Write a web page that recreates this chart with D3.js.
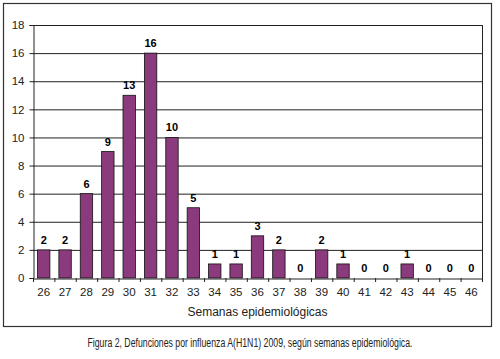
<html>
<head>
<script src="https://d3js.org/d3.v7.min.js"></script>
</head>
<style>
    body{ margin:0; background:#fff; }
</style>
<body>
</body>
<script>
const semanas = ['26','27','28','29','30','31','32','33','34','35','36','37','38','39','40','41','42','43','44','45','46'];
const defunciones = [2,2,6,9,13,16,10,5,1,1,3,2,0,2,1,0,0,1,0,0,0];
const yTicks = [0,2,4,6,8,10,12,14,16,18];
const xTitle = 'Semanas epidemiológicas';
const caption = 'Figura 2, Defunciones por influenza A(H1N1) 2009, según semanas epidemiológica.';

const w = 500, h = 359;
const mLeft = 33, mRight = 482, mTop = 25, mBottom = 278;

const svg = d3.select('body').append('svg')
    .attr('width', w)
    .attr('height', h)
    .style('font-family', 'Liberation Sans, Arial, sans-serif');

// marco exterior
svg.append('rect')
    .attr('x', 3.5).attr('y', 3.5)
    .attr('width', 488).attr('height', 323)
    .attr('fill', 'none')
    .attr('stroke', '#333')
    .attr('stroke-width', 1.2);

const x = d3.scaleBand()
    .domain(semanas)
    .range([mLeft, mRight])
    .paddingInner(0.42)
    .paddingOuter(0.21);

const y = d3.scaleLinear()
    .domain([0, 18])
    .range([mBottom, mTop]);

// lineas de cuadricula
svg.append('g')
    .selectAll('line')
    .data(yTicks.filter(d => d > 0))
    .enter()
    .append('line')
    .attr('x1', mLeft).attr('x2', mRight)
    .attr('y1', d => y(d) + 0.5).attr('y2', d => y(d) + 0.5)
    .attr('stroke', '#222')
    .attr('stroke-width', 1);

// borde derecho del area
svg.append('line')
    .attr('x1', mRight + 0.5).attr('x2', mRight + 0.5)
    .attr('y1', mTop).attr('y2', mBottom)
    .attr('stroke', '#222');

// barras
svg.append('g')
    .selectAll('rect')
    .data(defunciones)
    .enter()
    .append('rect')
    .attr('x', (d, i) => x(semanas[i]))
    .attr('y', d => y(d))
    .attr('width', x.bandwidth())
    .attr('height', d => mBottom - y(d))
    .attr('fill', '#8b3a7d')
    .attr('stroke', '#111')
    .attr('stroke-width', 0.8);

// etiquetas de valor
svg.append('g')
    .selectAll('text')
    .data(defunciones)
    .enter()
    .append('text')
    .attr('x', (d, i) => x(semanas[i]) + x.bandwidth() / 2)
    .attr('y', d => y(d) - 6)
    .attr('text-anchor', 'middle')
    .style('font-weight', 'bold')
    .style('font-size', '11px')
    .text(d => d);

// eje y
const yAxis = d3.axisLeft(y).tickValues(yTicks).tickSize(4).tickPadding(5);
const gy = svg.append('g')
    .attr('transform', 'translate(' + (mLeft + 0.5) + ',0)')
    .call(yAxis);
gy.selectAll('text').style('font-size', '11.5px').style('fill', '#222');
gy.selectAll('line, path').attr('stroke', '#222');

// eje x
const xAxis = d3.axisBottom(x).tickSize(0).tickPadding(9);
const gx = svg.append('g')
    .attr('transform', 'translate(0,' + (mBottom + 0.5) + ')')
    .call(xAxis);
gx.selectAll('text').style('font-size', '11.5px').style('fill', '#222');
gx.select('.domain').attr('stroke', '#222');

// marcas entre categorias
const step = x.step();
svg.append('g')
    .selectAll('line')
    .data(d3.range(semanas.length + 1))
    .enter()
    .append('line')
    .attr('x1', i => mLeft + i * step + 0.5)
    .attr('x2', i => mLeft + i * step + 0.5)
    .attr('y1', mBottom)
    .attr('y2', mBottom + 4)
    .attr('stroke', '#222');

svg.append('text')
    .attr('x', (mLeft + mRight) / 2)
    .attr('y', 316)
    .attr('text-anchor', 'middle')
    .style('font-size', '12px')
    .style('fill', '#222')
    .text(xTitle);

svg.append('text')
    .attr('x', 250)
    .attr('y', 347)
    .attr('text-anchor', 'middle')
    .attr('textLength', 325)
    .attr('lengthAdjust', 'spacingAndGlyphs')
    .style('font-size', '12.5px')
    .style('fill', '#222')
    .text(caption);
</script>
</html>
